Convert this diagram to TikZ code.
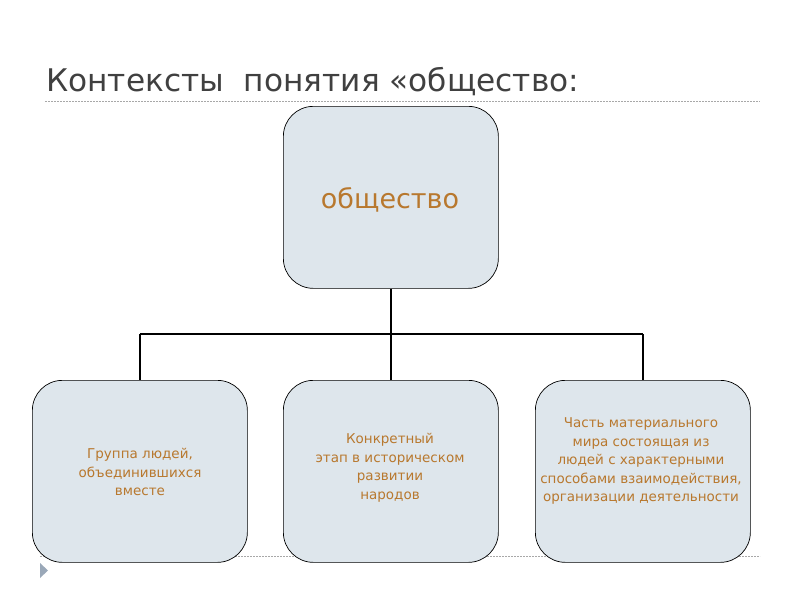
\documentclass[tikz,border=0pt]{standalone}
\usepackage{fontspec}
\setmainfont{DejaVu Sans}
\definecolor{boxfill}{HTML}{DEE6EC}
\definecolor{txtor}{HTML}{B8782E}
\definecolor{ttl}{HTML}{404040}
\definecolor{dashc}{HTML}{A8A8A8}
\definecolor{tri}{HTML}{9AA8B8}
\begin{document}
\begin{tikzpicture}[x=1pt,y=-1pt,
  box/.style={draw=black,line width=0.7pt,fill=boxfill,rounded corners=30pt,
    minimum width=215pt,minimum height=182pt,inner sep=0pt,anchor=north west},
  btext/.style={text=txtor,font=\fontsize{13.5}{18.5}\selectfont,align=center},
  conn/.style={draw=black,line width=1.5pt},
  sep/.style={draw=dashc,dashed,dash pattern=on 2pt off 1pt,line width=0.6pt}]
\useasboundingbox (0,0) rectangle (800,600);
\node[anchor=base west,text=ttl,font=\fontsize{31.2}{34}\selectfont,inner sep=0pt] (title) at (46,91) {Контексты\ \ понятия «общество:};
\coordinate (s1a) at (45,101); \coordinate (s1b) at (760,101);
\draw[sep] (s1a) -- (s1b);
\coordinate (s2a) at (40,556); \coordinate (s2b) at (760,556);
\draw[sep] (s2a) -- (s2b);
\node[box] (top) at (283,106) {};
\node[text=txtor,font=\fontsize{27}{30}\selectfont] (toptxt) at (390,200) {общество};
\node[box] (b1) at (32,380) {};
\node[box] (b2) at (283,380) {};
\node[box] (b3) at (535,380) {};
\node[btext] (t1) at (140,472) {Группа людей,\\объединившихся\\вместе};
\node[btext] (t2) at (390,468) {Конкретный\\этап в историческом\\развитии\\народов};
\node[btext] (t3) at (641,461) {Часть материального\\мира состоящая из\\людей с характерными\\способами взаимодействия,\\организации деятельности};
\coordinate (mid) at (top.south |- 0,334);
\coordinate (l) at (b1.north |- mid);
\coordinate (r) at (b3.north |- mid);
\draw[conn] (top.south) -- (mid);
\draw[conn] (l) -- (r);
\draw[conn] (l) -- (b1.north);
\draw[conn] (mid) -- (b2.north);
\draw[conn] (r) -- (b3.north);
\fill[tri] (40,563) -- (48,570.5) -- (40,578) -- cycle;
\end{tikzpicture}
\end{document}
